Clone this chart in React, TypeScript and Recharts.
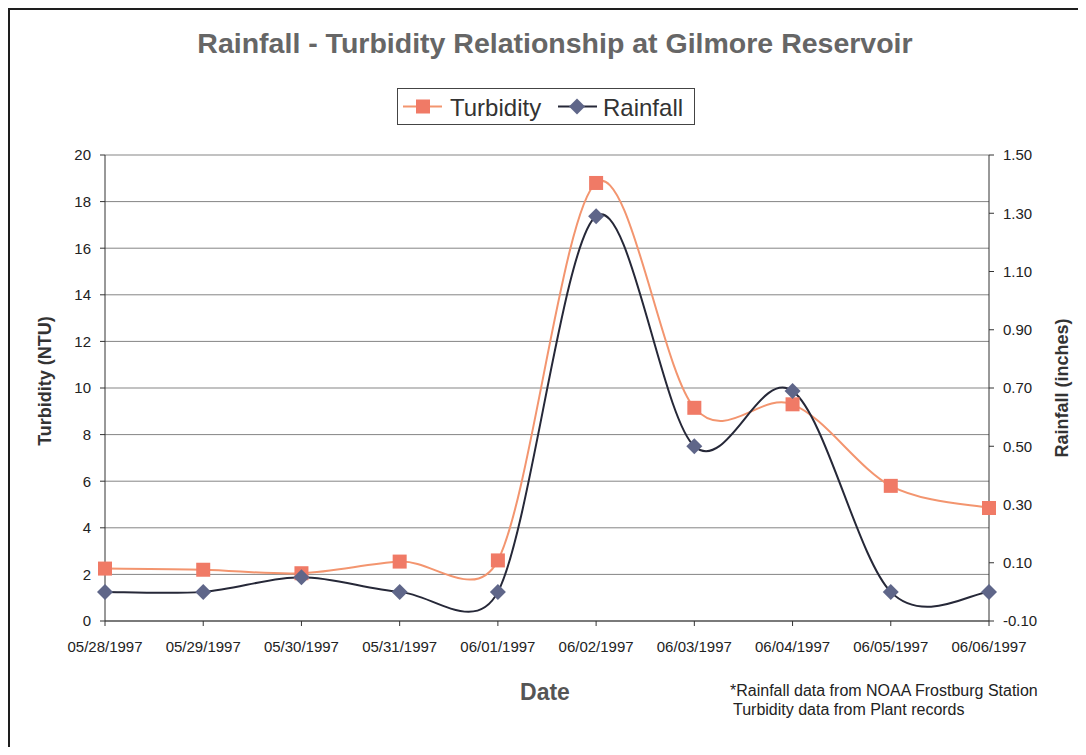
import React from "react";
import { LineChart, Line, XAxis, YAxis, CartesianGrid, Legend } from "recharts";

const dates = [
  "05/28/1997",
  "05/29/1997",
  "05/30/1997",
  "05/31/1997",
  "06/01/1997",
  "06/02/1997",
  "06/03/1997",
  "06/04/1997",
  "06/05/1997",
  "06/06/1997",
];
const turbidity = [2.25, 2.2, 2.05, 2.55, 2.6, 18.8, 9.15, 9.3, 5.8, 4.85];
const rainfall = [0, 0, 0.05, 0, 0, 1.29, 0.5, 0.69, 0, 0];
const turbidityTicks = [0, 2, 4, 6, 8, 10, 12, 14, 16, 18, 20];
const rainfallTicks = [-0.1, 0.1, 0.3, 0.5, 0.7, 0.9, 1.1, 1.3, 1.5];

const data = dates.map((date, i) => ({
  date,
  turbidity: turbidity[i],
  rainfall: rainfall[i],
}));

const FONT = '"Liberation Sans", Arial, sans-serif';
const TURB_LINE = "#f3956f";
const TURB_MARK = "#f07a66";
const RAIN_LINE = "#262838";
const RAIN_MARK = "#5f6689";

// spreadsheet-style smoothing: cubic bezier through every point, tangent taken
// from the neighbours (1/6), clamped to half the segment length so short
// segments next to steep jumps don't overshoot too far
const smoothCurve = (context: any) => {
  let xs: number[] = [];
  let ys: number[] = [];
  const handle = (dx: number, dy: number, seg: number) => {
    const len = Math.hypot(dx, dy);
    if (!len) return 0;
    return len / 6 > seg / 2 ? seg / 2 / len : 1 / 6;
  };
  return {
    areaStart() {},
    areaEnd() {},
    lineStart() {
      xs = [];
      ys = [];
    },
    point(x: number, y: number) {
      xs.push(+x);
      ys.push(+y);
    },
    lineEnd() {
      const n = xs.length;
      if (!n) return;
      context.moveTo(xs[0], ys[0]);
      for (let i = 0; i < n - 1; i++) {
        const p = Math.max(i - 1, 0);
        const q = Math.min(i + 2, n - 1);
        const seg = Math.hypot(xs[i + 1] - xs[i], ys[i + 1] - ys[i]);
        const ax = xs[i + 1] - xs[p];
        const ay = ys[i + 1] - ys[p];
        const bx = xs[q] - xs[i];
        const by = ys[q] - ys[i];
        const fa = handle(ax, ay, seg);
        const fb = handle(bx, by, seg);
        context.bezierCurveTo(
          xs[i] + ax * fa,
          ys[i] + ay * fa,
          xs[i + 1] - bx * fb,
          ys[i + 1] - by * fb,
          xs[i + 1],
          ys[i + 1]
        );
      }
    },
  };
};

const SquareDot = (props: any) => {
  const { cx, cy, index } = props;
  if (cx == null || cy == null) return <g key={`sq-${index}`} />;
  return (
    <rect
      key={`sq-${index}`}
      x={cx - 7}
      y={cy - 7}
      width={14}
      height={14}
      fill={TURB_MARK}
    />
  );
};

const DiamondDot = (props: any) => {
  const { cx, cy, index } = props;
  if (cx == null || cy == null) return <g key={`dm-${index}`} />;
  return (
    <polygon
      key={`dm-${index}`}
      points={`${cx},${cy - 8} ${cx + 8},${cy} ${cx},${cy + 8} ${cx - 8},${cy}`}
      fill={RAIN_MARK}
    />
  );
};

const LegendBox = () => (
  <svg width={298} height={37} style={{ display: "block" }}>
    <rect x={0.5} y={0.5} width={297} height={36} fill="#fff" stroke="#444" />
    <line x1={6} y1={18.5} x2={45} y2={18.5} stroke={TURB_LINE} strokeWidth={2} />
    <rect x={19} y={11.5} width={14} height={14} fill={TURB_MARK} />
    <text x={53} y={27.5} fontSize={24} fill="#333" fontFamily={FONT}>
      Turbidity
    </text>
    <line x1={161} y1={18.5} x2={200} y2={18.5} stroke={RAIN_LINE} strokeWidth={2} />
    <polygon points="180,10.5 188,18.5 180,26.5 172,18.5" fill={RAIN_MARK} />
    <text x={206} y={27.5} fontSize={24} fill="#333" fontFamily={FONT}>
      Rainfall
    </text>
  </svg>
);

const tickStyle = { fontSize: 15, fill: "#222", fontFamily: FONT };

export default function App() {
  return (
    <div
      style={{
        position: "relative",
        width: 1086,
        height: 755,
        margin: "-8px -8px -8px -8px",
        overflow: "hidden",
        background: "#fff",
        fontFamily: FONT,
      }}
    >
      <LineChart
        width={1086}
        height={755}
        data={data}
        margin={{ top: 155, right: 37, bottom: 104, left: 45 }}
      >
        <CartesianGrid
          yAxisId="left"
          vertical={false}
          stroke="#858585"
          horizontalValues={turbidityTicks}
        />
        <XAxis
          dataKey="date"
          scale="point"
          padding={{ left: 0, right: 0 }}
          height={30}
          tick={tickStyle}
          tickSize={5}
          tickMargin={15}
          axisLine={{ stroke: "#333" }}
          tickLine={{ stroke: "#333" }}
          interval={0}
        />
        <YAxis
          yAxisId="left"
          width={60}
          domain={[0, 20]}
          ticks={turbidityTicks}
          tick={tickStyle}
          tickSize={5}
          tickMargin={9}
          axisLine={{ stroke: "#333" }}
          tickLine={{ stroke: "#333" }}
          allowDataOverflow
        />
        <YAxis
          yAxisId="right"
          orientation="right"
          width={60}
          domain={[-0.1, 1.5]}
          ticks={rainfallTicks}
          tickFormatter={(v: number) => v.toFixed(2)}
          tick={tickStyle}
          tickSize={5}
          tickMargin={9}
          axisLine={{ stroke: "#333" }}
          tickLine={{ stroke: "#333" }}
          allowDataOverflow
        />
        <Legend
          layout="vertical"
          align="center"
          verticalAlign="middle"
          content={<LegendBox />}
          wrapperStyle={{ top: 88, left: 397, width: 298, height: 37 }}
        />
        <Line
          yAxisId="left"
          dataKey="turbidity"
          type={smoothCurve as any}
          stroke={TURB_LINE}
          strokeWidth={2}
          dot={SquareDot}
          activeDot={false}
          isAnimationActive={false}
        />
        <Line
          yAxisId="right"
          dataKey="rainfall"
          type={smoothCurve as any}
          stroke={RAIN_LINE}
          strokeWidth={2}
          dot={DiamondDot}
          activeDot={false}
          isAnimationActive={false}
        />
      </LineChart>
      <svg
        width={1086}
        height={755}
        style={{ position: "absolute", left: 0, top: 0, pointerEvents: "none" }}
        fontFamily={FONT}
      >
        {/* page frame, runs off the right and bottom edges */}
        <path d="M8.5,760 V8.5 H1090" fill="none" stroke="#1e1e1e" strokeWidth={3} />
        <text x={555} y={53} textAnchor="middle" fontSize={28.5} fontWeight="bold" fill="#666">
          Rainfall - Turbidity Relationship at Gilmore Reservoir
        </text>
        <text
          x={45}
          y={381}
          transform="rotate(-90 45 381)"
          textAnchor="middle"
          dominantBaseline="central"
          fontSize={18}
          fontWeight="bold"
          fill="#333"
        >
          Turbidity (NTU)
        </text>
        <text
          x={1062}
          y={388}
          transform="rotate(-90 1062 388)"
          textAnchor="middle"
          dominantBaseline="central"
          fontSize={18}
          fontWeight="bold"
          fill="#333"
        >
          Rainfall (inches)
        </text>
        <text
          x={545}
          y={692}
          textAnchor="middle"
          dominantBaseline="central"
          fontSize={23}
          fontWeight="bold"
          fill="#555"
        >
          Date
        </text>
        <text x={730} y={696} fontSize={16} fill="#222">
          *Rainfall data from NOAA Frostburg Station
        </text>
        <text x={733} y={715} fontSize={16} fill="#222">
          Turbidity data from Plant records
        </text>
      </svg>
    </div>
  );
}
